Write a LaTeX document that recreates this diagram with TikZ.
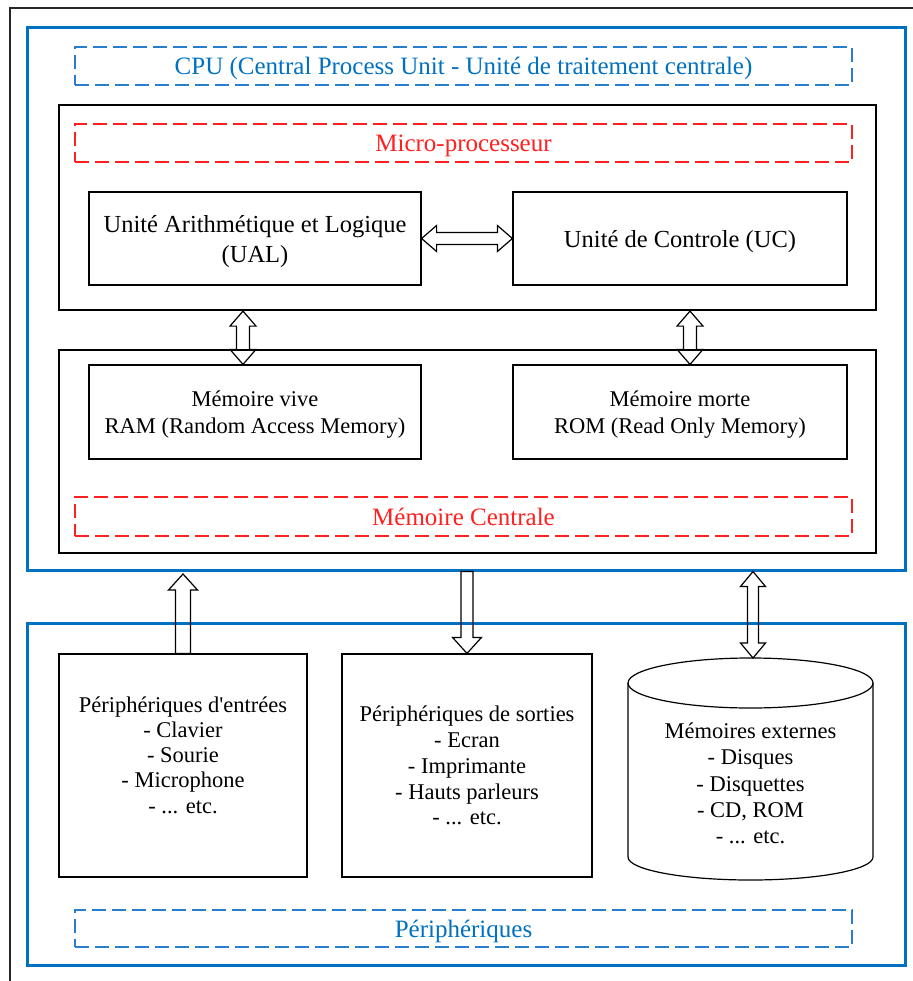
\documentclass[tikz,border=0pt]{standalone}
\usepackage{fontspec}
\setmainfont{Liberation Serif}
\usetikzlibrary{calc}
\definecolor{cpublue}{RGB}{0,112,192}
\definecolor{dashblue}{RGB}{40,126,204}
\definecolor{tagred}{RGB}{255,32,32}
% hollow block arrows (head length 15)
\newcommand{\hdblarrow}[4]{%
  \draw[blockarrow] (#1) -- ($(#1)+(15,-#3)$) -- ($(#1)+(15,-#4)$) -- ($(#2)+(-15,-#4)$)
    -- ($(#2)+(-15,-#3)$) -- (#2) -- ($(#2)+(-15,#3)$) -- ($(#2)+(-15,#4)$)
    -- ($(#1)+(15,#4)$) -- ($(#1)+(15,#3)$) -- cycle;}
\newcommand{\vdblarrow}[4]{%
  \draw[blockarrow] (#1) -- ($(#1)+(#3,15)$) -- ($(#1)+(#4,15)$) -- ($(#2)+(#4,-15)$)
    -- ($(#2)+(#3,-15)$) -- (#2) -- ($(#2)+(-#3,-15)$) -- ($(#2)+(-#4,-15)$)
    -- ($(#1)+(-#4,15)$) -- ($(#1)+(-#3,15)$) -- cycle;}
\newcommand{\vsglarrow}[5]{%
  \draw[blockarrow] (#1) -- ($(#1)+(#3,#5*16)$) -- ($(#1)+(#4,#5*16)$) -- ($(#2)+(#4,0)$)
    -- ($(#2)+(-#4,0)$) -- ($(#1)+(-#4,#5*16)$) -- ($(#1)+(-#3,#5*16)$) -- cycle;}
\begin{document}
\begin{tikzpicture}[x=1pt,y=-1pt,
  bluebox/.style={draw=cpublue, line width=3pt},
  unitbox/.style={draw, line width=2.2pt},
  box/.style={draw, line width=1.2pt, align=center, text depth=-3.5pt},
  tagbox/.style={line width=1.4pt, dash pattern=on 14pt off 6pt, minimum width=777pt, text depth=-3.5pt, font=\fontsize{25}{30}\selectfont},
  bluetag/.style={tagbox, draw=dashblue, text=cpublue},
  redtag/.style={tagbox, draw=tagred, text=tagred},
  blockarrow/.style={draw, line width=1.2pt, line join=miter}]
  \useasboundingbox (0,0) rectangle (912,981);
  \draw [black!85, line width=1.5pt] (10,995) -- (10,8) -- (925,8);

  % CPU
  \node [bluebox, minimum width=878pt, minimum height=542pt] (cpu) at (466,299) {};
  \node [bluetag, minimum height=38pt] (cputag) at (463.5,66) {CPU (Central Process Unit - Unité de traitement centrale)};

  \node [unitbox, minimum width=817pt, minimum height=205pt] (micro) at (467.5,207.5) {};
  \node [redtag, minimum height=38pt] (microtag) at (463.5,143) {Micro-processeur};
  \node [box, minimum width=332pt, minimum height=93pt, font=\fontsize{24.5}{30}\selectfont] (ual) at (255,238.5) {Unité Arithmétique et Logique\\(UAL)};
  \node [box, minimum width=334pt, minimum height=93pt, font=\fontsize{24.5}{30}\selectfont] (uc) at (680,238.5) {Unité de Controle (UC)};

  \node [unitbox, minimum width=817pt, minimum height=203pt] (mem) at (467.5,451.5) {};
  \node [box, minimum width=332pt, minimum height=94pt, font=\fontsize{22.5}{27}\selectfont] (ram) at (255,412) {Mémoire vive\\RAM (Random Access Memory)};
  \node [box, minimum width=334pt, minimum height=94pt, font=\fontsize{22.5}{27}\selectfont] (rom) at (680,412) {Mémoire morte\\ROM (Read Only Memory)};
  \node [redtag, minimum height=39pt] (memtag) at (463.5,516.5) {Mémoire Centrale};

  % peripheriques
  \node [bluebox, minimum width=878pt, minimum height=342pt] (peri) at (466,794.5) {};
  \node [box, minimum width=248pt, minimum height=223pt] (inp) at (183,765.5) {};
  \node [align=center, font=\fontsize{22.5}{25.3}\selectfont] (inptext) at (183,755) {Périphériques d\textquotesingle entrées\\- Clavier\\- Sourie\\- Microphone\\- ... etc.};
  \node [box, minimum width=250pt, minimum height=223pt, font=\fontsize{22.5}{25.7}\selectfont] (outp) at (467,765.5) {Périphériques de sorties\\- Ecran\\- Imprimante\\- Hauts parleurs\\- ... etc.};
  \coordinate (disk) at (750.5,683);
  \coordinate (disktop) at (753,658);
  \draw [line width=1.2pt] (628,683) -- (628,857) arc [start angle=180, end angle=0, x radius=122.5, y radius=23] -- (873,683);
  \draw [line width=1.2pt] (disk) ellipse [x radius=122.5, y radius=25];
  \node [align=center, font=\fontsize{22.5}{26.2}\selectfont] (ext) at (750.5,783.5) {Mémoires externes\\- Disques\\- Disquettes\\- CD, ROM\\- ... etc.};
  \node [bluetag, minimum height=37pt] (peritag) at (463.5,928.5) {Périphériques};

  % arrows
  \coordinate (ramtop) at ([xshift=-12pt]ram.north);
  \coordinate (microleft) at (ramtop |- micro.south);
  \coordinate (romtop) at ([xshift=10pt]rom.north);
  \coordinate (microright) at (romtop |- micro.south);
  \coordinate (intip) at ($(inp.north |- cpu.south)+(0,2.5)$);
  \coordinate (outtail) at (outp.north |- cpu.south);
  \coordinate (disktail) at (disktop |- cpu.south);
  \hdblarrow{ual.east}{uc.west}{13}{6}
  \vdblarrow{microleft}{ramtop}{13}{6.5}
  \vdblarrow{microright}{romtop}{13}{6.5}
  \vsglarrow{intip}{inp.north}{14.5}{7.5}{1}
  \vsglarrow{outp.north}{outtail}{14.5}{6}{-1}
  \vdblarrow{disktail}{disktop}{12.5}{5.5}
\end{tikzpicture}
\end{document}
